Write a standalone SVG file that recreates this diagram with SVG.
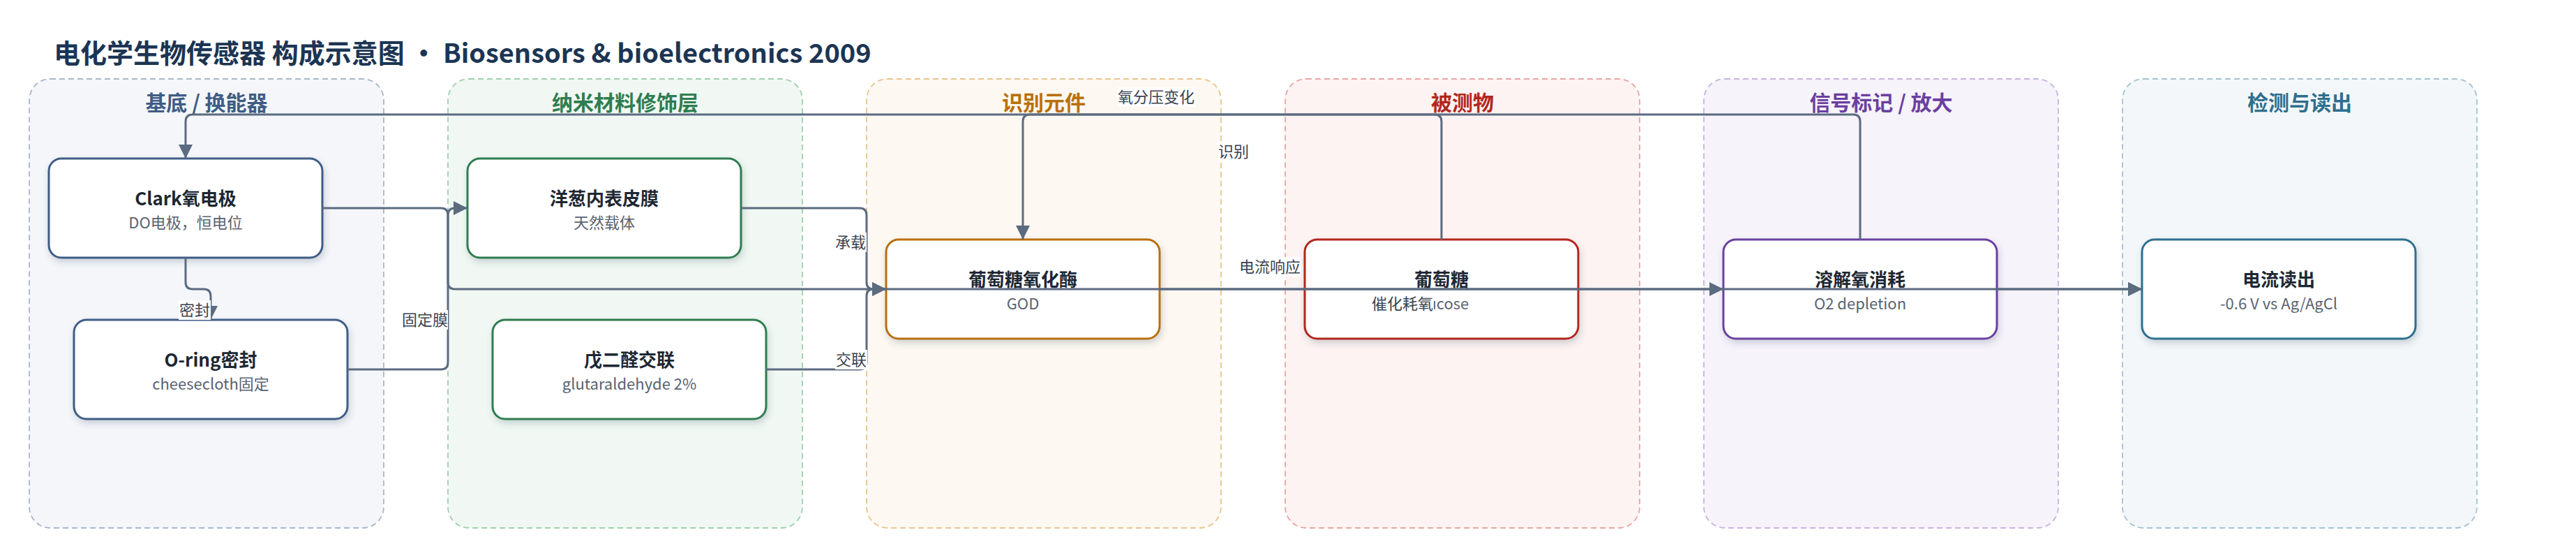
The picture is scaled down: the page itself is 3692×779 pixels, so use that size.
<svg xmlns="http://www.w3.org/2000/svg" width="3692" height="779" viewBox="0 0 3692 779">
<defs>
<style>
text{font-family:"Noto Sans CJK SC","Noto Sans",sans-serif;}
.main{font-size:38px;font-weight:700;fill:#1c3553;}
.ct{font-size:30px;font-weight:700;text-anchor:middle;}
.cl{stroke-width:1.8;stroke-dasharray:8 5;}
.nb{fill:#ffffff;stroke-width:3;filter:url(#sh);}
.nt{font-size:26px;font-weight:700;fill:#1d2733;text-anchor:middle;}
.ns{font-size:22px;fill:#5a6270;text-anchor:middle;}
.e{fill:none;stroke:#5b6b80;stroke-width:3;}
.ea{marker-end:url(#arr);}
.lb{fill:#ffffff;}
.lt{font-size:22px;fill:#3a4250;text-anchor:middle;}
</style>
<filter id="sh" x="-10%" y="-20%" width="120%" height="150%">
<feDropShadow dx="2" dy="5" stdDeviation="5" flood-color="#3a4a60" flood-opacity="0.22"/>
</filter>
<marker id="arr" markerUnits="userSpaceOnUse" markerWidth="20" markerHeight="20" refX="20" refY="10" orient="auto">
<path d="M0,0 L20,10 L0,20 z" fill="#5b6b80"/>
</marker>
</defs>
<rect width="3692" height="779" fill="#ffffff"/>
<text class="main" x="77" y="90">电化学生物传感器 构成示意图 · Biosensors &amp; bioelectronics 2009</text>

<g id="clusters">
<g id="cluster-substrate">
<rect class="cl" x="42" y="113" width="508" height="643" rx="30" fill="#f4f6fa" stroke="#a9b6c9"/>
<text class="ct" x="296" y="158" fill="#3f5d85">基底 / 换能器</text>
</g>
<g id="cluster-nano">
<rect class="cl" x="642" y="113" width="508" height="643" rx="30" fill="#f1f8f3" stroke="#9fcfb0"/>
<text class="ct" x="896" y="158" fill="#2e7d4f">纳米材料修饰层</text>
</g>
<g id="cluster-recog">
<rect class="cl" x="1242" y="113" width="508" height="643" rx="30" fill="#fdf8f1" stroke="#e8c48f"/>
<text class="ct" x="1496" y="158" fill="#b8700a">识别元件</text>
</g>
<g id="cluster-analyte">
<rect class="cl" x="1842" y="113" width="508" height="643" rx="30" fill="#fdf3f2" stroke="#e8a5a5"/>
<text class="ct" x="2096" y="158" fill="#b3261e">被测物</text>
</g>
<g id="cluster-signal">
<rect class="cl" x="2442" y="113" width="508" height="643" rx="30" fill="#f6f3fb" stroke="#c7b3de"/>
<text class="ct" x="2696" y="158" fill="#6b3fa0">信号标记 / 放大</text>
</g>
<g id="cluster-readout">
<rect class="cl" x="3042" y="113" width="508" height="643" rx="30" fill="#f3f7f9" stroke="#a3c3d1"/>
<text class="ct" x="3296" y="158" fill="#2e6f8e">检测与读出</text>
</g>
</g>

<g id="node-clark">
<rect class="nb" x="70" y="227" width="392" height="142" rx="18" stroke="#3f5d85"/>
<text class="nt" x="266" y="294">Clark氧电极</text>
<text class="ns" x="266" y="327">DO电极，恒电位</text>
</g>
<g id="node-oring">
<rect class="nb" x="106" y="458" width="392" height="142" rx="18" stroke="#3f5d85"/>
<text class="nt" x="302" y="525">O-ring密封</text>
<text class="ns" x="302" y="558">cheesecloth固定</text>
</g>
<g id="node-onion">
<rect class="nb" x="670" y="227" width="392" height="142" rx="18" stroke="#2e7d4f"/>
<text class="nt" x="866" y="294">洋葱内表皮膜</text>
<text class="ns" x="866" y="327">天然载体</text>
</g>
<g id="node-glut">
<rect class="nb" x="706" y="458" width="392" height="142" rx="18" stroke="#2e7d4f"/>
<text class="nt" x="902" y="525">戊二醛交联</text>
<text class="ns" x="902" y="558">glutaraldehyde 2%</text>
</g>
<g id="node-god">
<rect class="nb" x="1270" y="343" width="392" height="142" rx="18" stroke="#b8700a"/>
<text class="nt" x="1466" y="410">葡萄糖氧化酶</text>
<text class="ns" x="1466" y="443">GOD</text>
</g>
<g id="node-glucose">
<rect class="nb" x="1870" y="343" width="392" height="142" rx="18" stroke="#b3261e"/>
<text class="nt" x="2066" y="410">葡萄糖</text>
<text class="ns" x="2066" y="443">glucose</text>
</g>
<g id="node-o2">
<rect class="nb" x="2470" y="343" width="392" height="142" rx="18" stroke="#6b3fa0"/>
<text class="nt" x="2666" y="410">溶解氧消耗</text>
<text class="ns" x="2666" y="443">O2 depletion</text>
</g>
<g id="node-readout">
<rect class="nb" x="3070" y="343" width="392" height="142" rx="18" stroke="#2e6f8e"/>
<text class="nt" x="3266" y="410">电流读出</text>
<text class="ns" x="3266" y="443">-0.6 V vs Ag/AgCl</text>
</g>

<g id="connectors">
<path class="e ea" d="M266,369 V404 Q266,414 276,414 H292 Q302,414 302,424 V458"/>
<path class="e ea" d="M498,529 H632 Q642,529 642,519 V308 Q642,298 652,298 H670"/>
<path class="e ea" d="M462,298 H632 Q642,298 642,308 V404 Q642,414 652,414 H3070"/>
<path class="e ea" d="M1062,298 H1232 Q1242,298 1242,308 V404 Q1242,414 1252,414 H1270"/>
<path class="e ea" d="M1098,529 H1232 Q1242,529 1242,519 V424 Q1242,414 1252,414 H1270"/>
<path class="e ea" d="M2066,343 V174 Q2066,164 2056,164 H1476 Q1466,164 1466,174 V343"/>
<path class="e ea" d="M2666,343 V174 Q2666,164 2656,164 H276 Q266,164 266,174 V227"/>
<path class="e ea" d="M1662,414 H2470"/>
<path class="e ea" d="M2862,414 H3070"/>
<g id="edge-labels">
<rect class="lb" x="256" y="430" width="46" height="28"/>
<text class="lt" x="279" y="452">密封</text>
<rect class="lb" x="576" y="444" width="66" height="28"/>
<text class="lt" x="609" y="466">固定膜</text>
<rect class="lb" x="1196" y="333" width="46" height="28"/>
<text class="lt" x="1219" y="355">承载</text>
<rect class="lb" x="1197" y="501" width="46" height="28"/>
<text class="lt" x="1220" y="523">交联</text>
<rect class="lb" x="1601" y="125" width="112" height="28"/>
<text class="lt" x="1657" y="147">氧分压变化</text>
<rect class="lb" x="1745" y="203" width="46" height="28"/>
<text class="lt" x="1768" y="225">识别</text>
<rect class="lb" x="1775" y="368" width="90" height="28"/>
<text class="lt" x="1820" y="390">电流响应</text>
<rect class="lb" x="1965" y="421" width="90" height="28"/>
<text class="lt" x="2010" y="443">催化耗氧</text>
</g>
</g>
</svg>
